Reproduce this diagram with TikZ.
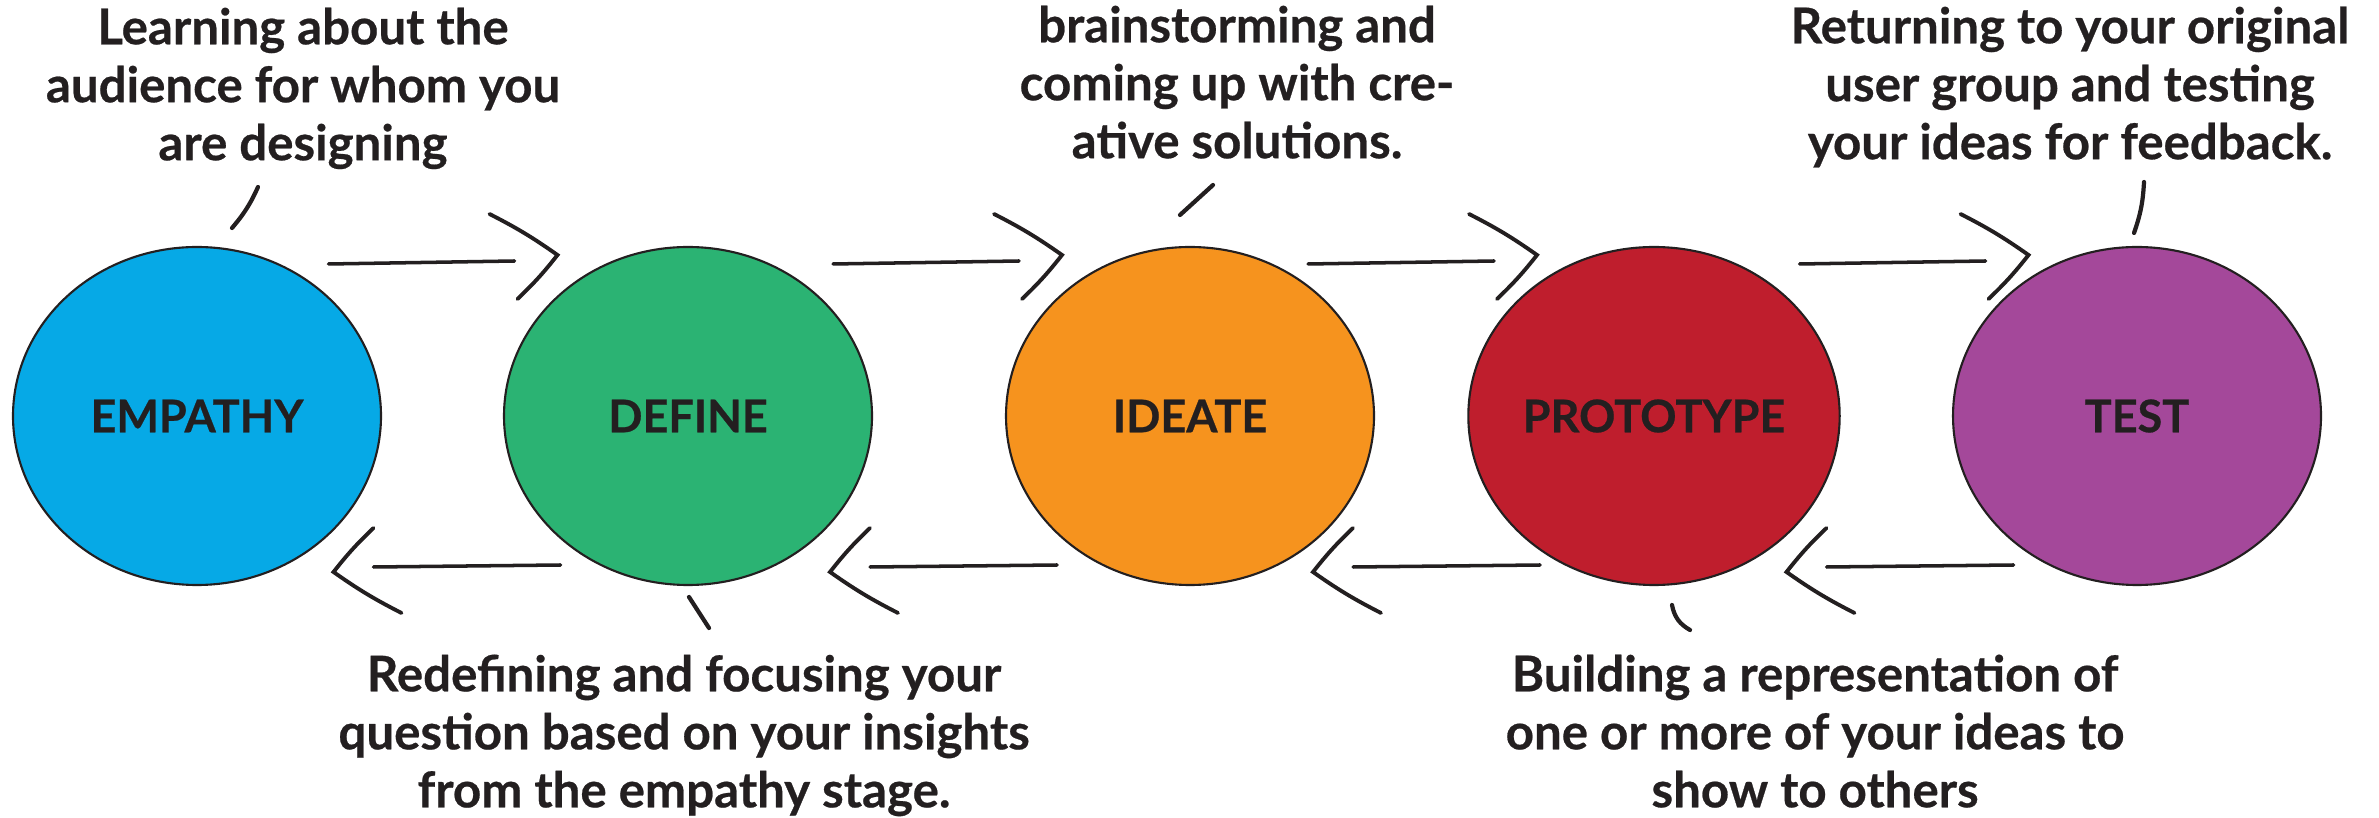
\documentclass[tikz,border=0pt]{standalone}
\usepackage{fontspec}
\setmainfont{Lato}[BoldFeatures={FakeBold=0.5}]
\usetikzlibrary{calc,shapes.geometric}

\definecolor{empathyblue}{HTML}{06A9E6}
\definecolor{definegreen}{HTML}{2BB373}
\definecolor{ideateorange}{HTML}{F6931E}
\definecolor{protored}{HTML}{BF1E2D}
\definecolor{testpurple}{HTML}{A4489A}
\definecolor{ink}{HTML}{231F20}

\tikzset{
  stage/.style={ellipse, draw=ink, line width=0.6pt, minimum width=3.68cm,
    minimum height=3.38cm, inner sep=0pt, text=ink,
    font=\bfseries\fontsize{12.8}{15}\selectfont},
  note/.style={align=center, inner sep=0pt, text=ink, anchor=north,
    font=\bfseries\fontsize{14}{16.5}\selectfont},
  link/.style={draw=ink, line width=1pt, line cap=round},
  pointer/.style={draw=ink, line width=1.2pt, line cap=round},
  fwdtip/.pic={\draw[link, line width=1.1pt, line join=miter]
    (-0.68,0.41) to[bend left=4] (0,0) to[bend left=4] (-0.40,-0.44);},
}

\begin{document}
\begin{tikzpicture}
  \useasboundingbox (0,0) rectangle (23.79,8.17);

  % the five stages
  \node[stage, fill=empathyblue]  (empathy)   at (1.97,4.01)  {EMPATHY};
  \node[stage, fill=definegreen]  (define)    at (6.88,4.01)  {DEFINE};
  \node[stage, fill=ideateorange] (ideate)    at (11.90,4.01) {IDEATE};
  \node[stage, fill=protored]     (prototype) at (16.54,4.01) {PROTOTYPE};
  \node[stage, fill=testpurple]   (test)      at (21.37,4.01) {TEST};

  % notes
  \node[note] (empathy-note) at (3.03,8.10)
    {Learning about the\\audience for whom you\\are designing};
  \node[note] (ideate-note) at (12.37,8.12)
    {brainstorming and\\coming up with cre-\\ative solutions.};
  \node[note] (test-note) at (20.70,8.11)
    {Returning to your original\\user group and testing\\your ideas for feedback.};
  \node[note] (define-note) at (6.84,1.63)
    {Redefining and focusing your\\question based on your insights\\from the empathy stage.};
  \node[note] (prototype-note) at (18.15,1.63)
    {Building a representation of\\one or more of your ideas to\\show to others};

  % pointers from the notes
  \draw[pointer] ($(empathy)+(0.61,2.29)$) to[bend left=8] ($(empathy)+(0.35,1.88)$);
  \draw[pointer] ($(ideate)+(0.23,2.31)$) -- ($(ideate)+(-0.10,2.01)$);
  \draw[pointer] ($(test)+(0.07,2.34)$) to[bend left=8] ($(test)+(-0.03,1.83)$);
  \draw[pointer] ($(define)+(0.01,-1.81)$) -- ($(define)+(0.21,-2.12)$);
  \draw[pointer] ($(prototype)+(0.18,-1.89)$) to[bend right=25] ($(prototype)+(0.36,-2.14)$);

  % arrows forward and back
  \foreach \a/\b/\fs in {empathy/define/0, define/ideate/0.08,
                         ideate/prototype/0, prototype/test/0.18} {
    \coordinate (\a-\b) at ($(\a)!0.5!(\b)+(\fs,0)$);
    \coordinate (\b-\a) at ($(\a)!0.5!(\b)$);
    \draw[link] ($(\a-\b)+(-1.14,1.52)$) -- ($(\a-\b)+(0.72,1.55)$);
    \pic at ($(\a-\b)+(1.15,1.61)$) {fwdtip};
    \draw[link] ($(\b-\a)+(1.18,-1.49)$) -- ($(\b-\a)+(-0.69,-1.51)$);
    \pic[rotate=180] at ($(\b-\a)+(-1.09,-1.56)$) {fwdtip};
  }
\end{tikzpicture}
\end{document}
